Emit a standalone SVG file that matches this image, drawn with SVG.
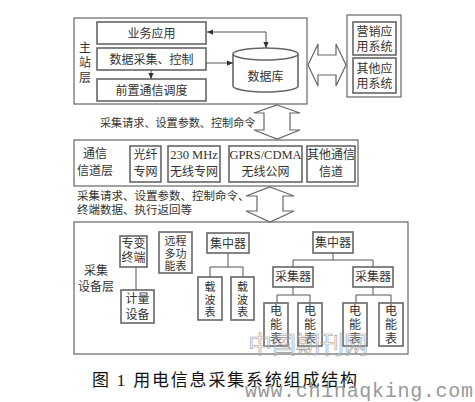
<svg xmlns="http://www.w3.org/2000/svg" width="475" height="402" viewBox="0 0 475 402">
<defs>
<style>
.t{font-family:"Liberation Serif","Noto Sans CJK SC",serif;font-size:12px;fill:#333;text-anchor:middle}
.v{font-family:"Liberation Serif","Noto Sans CJK SC",serif;font-size:11px;fill:#333;text-anchor:middle}
.l{font-family:"Liberation Serif","Noto Sans CJK SC",serif;font-size:11.5px;fill:#333}
.s{font-family:"Liberation Serif","Noto Sans CJK SC",serif;font-size:12.5px;fill:#333}
.o{fill:#fff;stroke:#666;stroke-width:1.2}
.b{fill:#fff;stroke:#666;stroke-width:1.6}
.c{fill:none;stroke:#555;stroke-width:1}
.big{fill:#fff;stroke:#666;stroke-width:1.2;stroke-linejoin:miter}
</style>
<marker id="ah" viewBox="0 0 8 8" refX="8" refY="4" markerWidth="6" markerHeight="6" orient="auto-start-reverse" markerUnits="userSpaceOnUse">
<path d="M0,0.5 L8,4 L0,7.5 Z" fill="#333"/>
</marker>
</defs>
<rect width="475" height="402" fill="#fff"/>

<g id="master">
<rect class="o" x="74" y="18" width="233" height="86"/>
<text class="t"><tspan x="85" y="52">主</tspan><tspan x="85" y="67">站</tspan><tspan x="85" y="82">层</tspan></text>
</g>
<g id="biz"><rect class="b" x="97" y="22" width="109" height="22"/><text class="t" x="151.5" y="37.5">业务应用</text></g>
<g id="acq"><rect class="b" x="97" y="48" width="109" height="22"/><text class="t" x="151.5" y="63.5">数据采集、控制</text></g>
<g id="front"><rect class="b" x="97" y="79" width="109" height="22"/><text class="t" x="151.5" y="94.5">前置通信调度</text></g>
<g id="db">
<path class="b" d="M233,54 L233,86 A32.5,6 0 0 0 298,86 L298,54"/>
<ellipse class="b" cx="265.5" cy="54" rx="32.5" ry="6"/>
<text class="t" x="265.5" y="81">数据库</text>
</g>

<g id="apps">
<rect class="o" x="347" y="15" width="54" height="82"/>
<rect class="b" x="353" y="22" width="43" height="33"/>
<text class="t"><tspan x="374.5" y="36">营销应</tspan><tspan x="374.5" y="51">用系统</tspan></text>
<rect class="b" x="353" y="58" width="43" height="35"/>
<text class="t"><tspan x="374.5" y="73">其他应</tspan><tspan x="374.5" y="88">用系统</tspan></text>
</g>

<g id="comm">
<rect class="o" x="74" y="140" width="284" height="46"/>
<text class="t"><tspan x="95" y="158">通信</tspan><tspan x="95" y="175">信道层</tspan></text>
</g>
<g id="fiber"><rect class="b" x="130" y="146" width="31" height="36"/><text class="t"><tspan x="145.5" y="159">光纤</tspan><tspan x="145.5" y="176">专网</tspan></text></g>
<g id="mhz"><rect class="b" x="168" y="146" width="52" height="36"/><text class="t"><tspan class="s" x="194" y="159">230 MHz</tspan><tspan x="194" y="176">无线专网</tspan></text></g>
<g id="gprs"><rect class="b" x="229" y="146" width="73" height="36"/><text class="t"><tspan class="s" x="265.5" y="159">GPRS/CDMA</tspan><tspan x="265.5" y="176">无线公网</tspan></text></g>
<g id="other"><rect class="b" x="307" y="146" width="48" height="36"/><text class="t"><tspan x="331" y="159">其他通信</tspan><tspan x="331" y="176">信道</tspan></text></g>

<g id="collect">
<rect class="o" x="74" y="222" width="334" height="132"/>
<text class="t"><tspan x="96" y="275">采集</tspan><tspan x="96" y="291">设备层</tspan></text>
</g>
<g id="zbzd"><rect class="b" x="120" y="236" width="27" height="31"/><text class="t"><tspan x="133.5" y="248">专变</tspan><tspan x="133.5" y="262">终端</tspan></text></g>
<g id="jlsb"><rect class="b" x="121" y="290" width="33" height="33"/><text class="t"><tspan x="137.5" y="303">计量</tspan><tspan x="137.5" y="319">设备</tspan></text></g>
<g id="ycdgn"><rect class="b" x="159" y="232" width="33" height="41"/><text class="v"><tspan x="175.5" y="245">远程</tspan><tspan x="175.5" y="257.5">多功</tspan><tspan x="175.5" y="270">能表</tspan></text></g>
<g id="jzq1"><rect class="b" x="207" y="233" width="42" height="20"/><text class="t" x="228" y="247.5">集中器</text></g>
<g id="zbb1"><rect class="b" x="198" y="277" width="24" height="43"/><text class="v"><tspan x="210" y="291">载</tspan><tspan x="210" y="303.5">波</tspan><tspan x="210" y="316">表</tspan></text></g>
<g id="zbb2"><rect class="b" x="231" y="277" width="23" height="43"/><text class="v"><tspan x="242.5" y="291">载</tspan><tspan x="242.5" y="303.5">波</tspan><tspan x="242.5" y="316">表</tspan></text></g>
<g id="jzq2"><rect class="b" x="313" y="232" width="40" height="21"/><text class="t" x="333" y="246.5">集中器</text></g>
<g id="cjq1"><rect class="b" x="273" y="267" width="40" height="20"/><text class="t" x="293" y="281">采集器</text></g>
<g id="cjq2"><rect class="b" x="353" y="267" width="40" height="20"/><text class="t" x="373" y="281">采集器</text></g>
<g id="m1"><rect class="b" x="264" y="303" width="24" height="43"/><text class="t"><tspan x="276" y="315">电</tspan><tspan x="276" y="329">能</tspan><tspan x="276" y="343">表</tspan></text></g>
<g id="m2"><rect class="b" x="298" y="303" width="24" height="43"/><text class="t"><tspan x="310" y="315">电</tspan><tspan x="310" y="329">能</tspan><tspan x="310" y="343">表</tspan></text></g>
<g id="m3"><rect class="b" x="343" y="303" width="24" height="43"/><text class="t"><tspan x="355" y="315">电</tspan><tspan x="355" y="329">能</tspan><tspan x="355" y="343">表</tspan></text></g>
<g id="m4"><rect class="b" x="379" y="303" width="24" height="43"/><text class="t"><tspan x="391" y="315">电</tspan><tspan x="391" y="329">能</tspan><tspan x="391" y="343">表</tspan></text></g>

<g id="connectors">
<path class="c" d="M266,48 L266,32 L207,32" marker-start="url(#ah)" marker-end="url(#ah)"/>
<path class="c" d="M206,63 L233,63" marker-end="url(#ah)"/>
<path class="c" d="M151,70 L151,79" marker-end="url(#ah)"/>
<path class="big" d="M308,65 L318,44 L318,55 L336,55 L336,44 L346,65 L336,86 L336,75 L318,75 L318,86 Z"/>
<path class="big" d="M277,105 L300,113 L290,113 L290,130 L300,130 L277,139 L254,130 L264,130 L264,113 L254,113 Z"/>
<path class="big" d="M270,187 L294,196 L283,196 L283,211 L294,211 L270,222 L246,211 L257,211 L257,196 L246,196 Z"/>
<path class="c" d="M136,267 L136,290"/>
<path class="c" d="M228,253 L228,267 M210,267 L243,267 M210,267 L210,277 M243,267 L243,277"/>
<path class="c" d="M333,253 L333,260 M293,260 L373,260 M293,260 L293,267 M373,260 L373,267"/>
<path class="c" d="M293,287 L293,295 M277,295 L310,295 M277,295 L277,303 M310,295 L310,303"/>
<path class="c" d="M373,287 L373,295 M356,295 L391,295 M356,295 L356,303 M391,295 L391,303"/>
</g>

<g id="labels">
<text class="l" x="100" y="127" style="font-size:11.1px">采集请求、设置参数、控制命令</text>
<text class="l"><tspan x="77" y="200">采集请求、设置参数、控制命令、</tspan><tspan x="77" y="214">终端数据、执行返回等</tspan></text>
</g>

<text x="248" y="353" style="font-family:'Liberation Sans','Noto Sans CJK SC',sans-serif;font-size:24px;fill:#fff;fill-opacity:0.3;stroke:#999;stroke-width:0.6">中国期刊网</text>
<text x="92" y="386" textLength="265" style="font-family:'Liberation Serif','Noto Sans CJK SC',serif;font-size:17px;fill:#111">图 1 用电信息采集系统组成结构</text>
<text x="245" y="397" textLength="228" style="font-family:'Liberation Mono',monospace;font-size:20px;fill:#999">www.chinaqking.com</text>
</svg>
